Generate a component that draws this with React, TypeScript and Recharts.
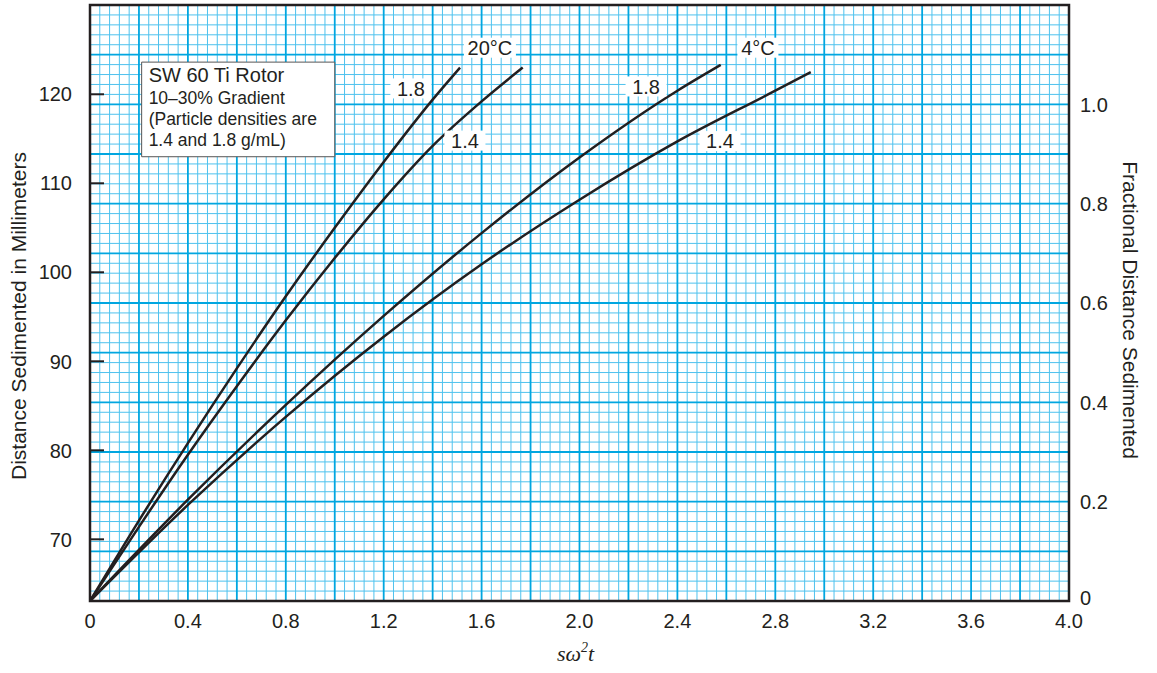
import React from 'react';
import { LineChart, Line, XAxis, YAxis, ReferenceLine, ReferenceArea, ReferenceDot } from 'recharts';

// ---- axis ticks ----
const xTicks = [0, 0.4, 0.8, 1.2, 1.6, 2.0, 2.4, 2.8, 3.2, 3.6, 4.0];
const mmTicks = [70, 80, 90, 100, 110, 120];
const fracTicks = [0, 0.2, 0.4, 0.6, 0.8, 1.0];

// ---- series (x = sω²t, y = distance in mm) ----
const x20_18 = [0, 0.2, 0.4, 0.6, 0.8, 1.0, 1.2, 1.4, 1.512];
const mm20_18 = [63.07, 72.1, 80.8, 89.2, 97.3, 105.0, 112.4, 119.4, 123.0];

const x20_14 = [0, 0.2, 0.4, 0.6, 0.8, 1.0, 1.2, 1.4, 1.6, 1.768];
const mm20_14 = [63.07, 71.4, 79.5, 87.2, 94.6, 101.6, 108.2, 114.2, 119.2, 123.0];

const x4_18 = [0, 0.4, 0.8, 1.2, 1.6, 2.0, 2.4, 2.577];
const mm4_18 = [63.07, 74.45, 85.1, 95.1, 104.4, 112.9, 120.4, 123.3];

const x4_14 = [0, 0.4, 0.8, 1.2, 1.6, 2.0, 2.4, 2.8, 2.945];
const mm4_14 = [63.07, 73.86, 83.76, 92.77, 100.9, 108.15, 114.7, 120.4, 122.5];

// ---- curve labels (text, x, fractional y) ----
const curveLabelText = ['20°C', '1.8', '1.4', '4°C', '1.8', '1.4'];
const curveLabelX = [1.634, 1.311, 1.532, 2.729, 2.272, 2.574];
const curveLabelF = [1.114, 1.032, 0.927, 1.114, 1.036, 0.926];

// ---- info box ----
const boxTitle = 'SW 60 Ti Rotor';
const boxLines = ['10–30% Gradient', '(Particle densities are', '1.4 and 1.8 g/mL)'];
const boxX = [0.211, 1.0];
const boxF = [0.8945, 1.085];

const X_DOMAIN = [0, 4];
const MM_DOMAIN = [63.07, 130.03];
const FRAC_DOMAIN = [0, 1.2];

const FONT = '"Liberation Sans", Arial, Helvetica, sans-serif';
const INK = '#231f20';

const zip = (xs: number[], ys: number[]) => xs.map((x, i) => ({ x, y: ys[i] }));
const series = [
  zip(x20_18, mm20_18),
  zip(x20_14, mm20_14),
  zip(x4_18, mm4_18),
  zip(x4_14, mm4_14),
];

// grid values
const gridXMinor: number[] = [];
const gridXMajor: number[] = [];
for (let i = 1; i < 100; i++) {
  const v = Math.round(i * 4) / 100;
  (i % 5 === 0 ? gridXMajor : gridXMinor).push(v);
}
const gridFMinor: number[] = [];
const gridFMajor: number[] = [];
for (let i = 1; i < 60; i++) {
  const v = Math.round(i * 2) / 100;
  (i % 5 === 0 ? gridFMajor : gridFMinor).push(v);
}

const fmt = (v: number) => (v === 0 ? '0' : v.toFixed(1));

const MmTick = (props: any) => {
  const { x, y, payload } = props;
  return (
    <g>
      <line x1={x} x2={x + 14} y1={y} y2={y} stroke={INK} strokeWidth={2} />
      <text x={x - 18} y={y} dy="0.36em" textAnchor="end" fontSize={20} fontFamily={FONT} fill={INK}>
        {payload.value}
      </text>
    </g>
  );
};

const FracTick = (props: any) => {
  const { x, y, payload } = props;
  const shift = payload.value === 0 ? -3 : 0;
  return (
    <text x={x} y={y + shift} dy="0.36em" textAnchor="start" fontSize={20} fontFamily={FONT} fill={INK}>
      {fmt(payload.value)}
    </text>
  );
};

const LeftTitle = (props: any) => {
  const vb = props.viewBox;
  const cx = vb.x + 18;
  const cy = vb.y + vb.height / 2 + 13;
  return (
    <text x={cx} y={cy} transform={`rotate(-90 ${cx} ${cy})`} textAnchor="middle" dominantBaseline="central"
      fontSize={21} fontFamily={FONT} fill={INK}>Distance Sedimented in Millimeters</text>
  );
};

const RightTitle = (props: any) => {
  const vb = props.viewBox;
  const cx = vb.x + 61;
  const cy = vb.y + vb.height / 2 + 7;
  return (
    <text x={cx} y={cy} transform={`rotate(90 ${cx} ${cy})`} textAnchor="middle" dominantBaseline="central"
      fontSize={21} fontFamily={FONT} fill={INK}>Fractional Distance Sedimented</text>
  );
};

const BottomTitle = (props: any) => {
  const vb = props.viewBox;
  const cx = vb.x + vb.width / 2 - 4;
  const cy = vb.y + 60;
  return (
    <text x={cx} y={cy} textAnchor="middle" fontSize={22} fontFamily='"Liberation Serif", "Times New Roman", serif'
      fontStyle="italic" fill={INK}>
      <tspan>sω</tspan>
      <tspan fontSize={14} dy={-9}>2</tspan>
      <tspan dy={9}>t</tspan>
    </text>
  );
};

const InfoText = (props: any) => {
  const vb = props.viewBox;
  const x = vb.x + 7;
  return (
    <g fontFamily={FONT} fill={INK}>
      <text x={x} y={vb.y + 20} fontSize={20}>{boxTitle}</text>
      {boxLines.map((t, i) => (
        <text key={i} x={x} y={vb.y + 42 + i * 21} fontSize={17.5}>{t}</text>
      ))}
    </g>
  );
};

const makeCurveLabel = (text: string) => (p: any) => {
  const w = text.length * 11 + 8;
  return (
    <g>
      <rect x={p.cx - w / 2} y={p.cy - 10} width={w} height={20} fill="#fff" />
      <text x={p.cx} y={p.cy} dy="0.36em" textAnchor="middle" fontSize={20} fontFamily={FONT} fill={INK}>{text}</text>
    </g>
  );
};

export default function App() {
  return (
    <div style={{ position: 'absolute', left: 0, top: 0, width: 1157, height: 673, background: '#fff' }}>
      <LineChart width={1157} height={673} margin={{ top: 5, right: 0, bottom: 0, left: 0 }}>
        <XAxis type="number" dataKey="x" domain={X_DOMAIN} ticks={xTicks} interval={0} tickFormatter={fmt}
          axisLine={false} tickLine={false} tickSize={0} tickMargin={13} height={72} allowDataOverflow
          tick={{ fontSize: 20, fill: INK, fontFamily: FONT }} label={<BottomTitle />} />
        <YAxis yAxisId="mm" type="number" domain={MM_DOMAIN} ticks={mmTicks} interval={0} width={90}
          axisLine={false} tickLine={false} tickSize={0} tickMargin={0} allowDataOverflow
          tick={<MmTick />} label={<LeftTitle />} />
        <YAxis yAxisId="frac" orientation="right" type="number" domain={FRAC_DOMAIN} ticks={fracTicks} interval={0}
          width={88} axisLine={false} tickLine={false} tickSize={0} tickMargin={11} allowDataOverflow
          tick={<FracTick />} label={<RightTitle />} />

        {gridXMinor.map((v) => (
          <ReferenceLine key={'xm' + v} x={v} yAxisId="frac" stroke="#4ec2ee" strokeWidth={1} zIndex={-120} />
        ))}
        {gridFMinor.map((v) => (
          <ReferenceLine key={'fm' + v} y={v} yAxisId="frac" stroke="#4ec2ee" strokeWidth={1} zIndex={-120} />
        ))}
        {gridXMajor.map((v) => (
          <ReferenceLine key={'xM' + v} x={v} yAxisId="frac" stroke="#00a6e0" strokeWidth={1.8} zIndex={-110} />
        ))}
        {gridFMajor.map((v) => (
          <ReferenceLine key={'fM' + v} y={v} yAxisId="frac" stroke="#00a6e0" strokeWidth={1.8} zIndex={-110} />
        ))}

        <ReferenceArea x1={boxX[0]} x2={boxX[1]} y1={boxF[0]} y2={boxF[1]} yAxisId="frac"
          fill="#fff" fillOpacity={1} stroke="#555" strokeWidth={1} label={<InfoText />} zIndex={700} />

        {curveLabelText.map((t, i) => (
          <ReferenceDot key={'cl' + i} x={curveLabelX[i]} y={curveLabelF[i]} yAxisId="frac" r={0}
            shape={makeCurveLabel(t)} zIndex={700} />
        ))}

        {series.map((d, i) => (
          <Line key={'s' + i} data={d} dataKey="y" yAxisId="mm" type="monotone" stroke={INK} strokeWidth={2.5}
            dot={false} activeDot={false} isAnimationActive={false} />
        ))}

        <ReferenceArea x1={0} x2={4} y1={0} y2={1.2} yAxisId="frac" fill="none" stroke={INK} strokeWidth={2.5} zIndex={800} />
      </LineChart>
    </div>
  );
}
